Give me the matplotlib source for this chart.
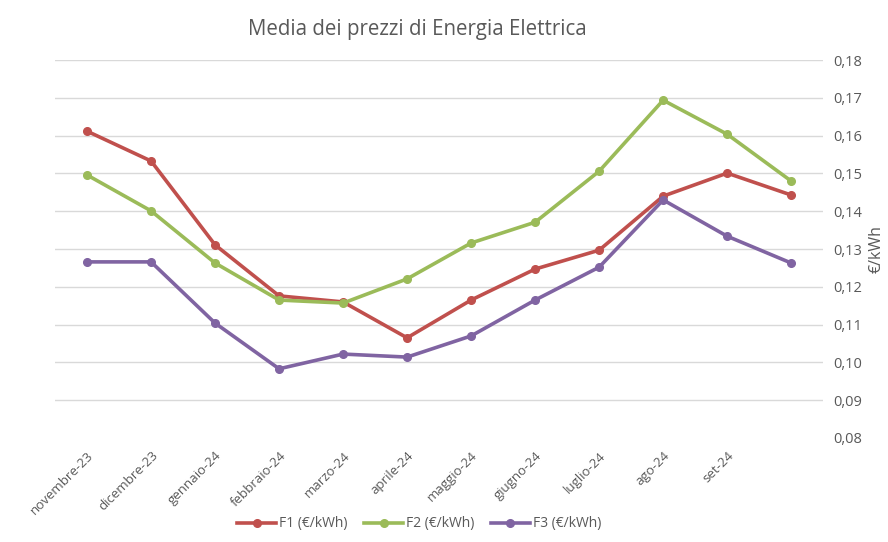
import matplotlib
matplotlib.use("Agg")
import matplotlib.pyplot as plt
import numpy as np

plt.rcParams['font.family'] = ['Open Sans', 'DejaVu Sans']

# Dati
mesi = ["novembre-23", "dicembre-23", "gennaio-24", "febbraio-24", "marzo-24",
        "aprile-24", "maggio-24", "giugno-24", "luglio-24", "ago-24", "set-24", ""]
f1 = [0.1612, 0.1533, 0.1311, 0.1176, 0.1160, 0.1065, 0.1165, 0.1247, 0.1297, 0.1440, 0.1501, 0.1443]
f2 = [0.1496, 0.1401, 0.1263, 0.1165, 0.1157, 0.1221, 0.1316, 0.1371, 0.1506, 0.1694, 0.1604, 0.1480]
f3 = [0.1266, 0.1266, 0.1104, 0.0983, 0.1022, 0.1014, 0.1070, 0.1165, 0.1252, 0.1430, 0.1334, 0.1263]
y_ticks = [0.08, 0.09, 0.10, 0.11, 0.12, 0.13, 0.14, 0.15, 0.16, 0.17, 0.18]

fig = plt.figure(figsize=(8.88, 5.42), dpi=100)
ax = fig.add_axes([0.062, 0.192, 0.865, 0.697])

x = np.arange(len(mesi))
serie = [("F1 (€/kWh)", f1, "#C0504D"),
         ("F2 (€/kWh)", f2, "#9BBB59"),
         ("F3 (€/kWh)", f3, "#8064A2")]
for nome, valori, colore in serie:
    ax.plot(x, valori, color=colore, linewidth=2.6, marker="o", markersize=5.5, label=nome)

ax.set_xlim(-0.5, len(mesi) - 0.5)
ax.set_ylim(0.08, 0.18)
ax.set_yticks(y_ticks)
ax.set_yticklabels([f"{v:.2f}".replace(".", ",") for v in y_ticks])
ax.yaxis.tick_right()
ax.yaxis.set_label_position("right")
ax.set_ylabel("€/kWh", color="#595959", fontsize=11.5, labelpad=5)

ax.set_xticks(x)
ax.set_xticklabels(mesi, rotation=45, ha="right", rotation_mode="anchor")
ax.tick_params(axis="both", length=0, colors="#595959")
ax.tick_params(axis="x", pad=8, labelsize=9.5)
ax.tick_params(axis="y", pad=7, labelsize=10.5)

ax.grid(axis="y", color="#D9D9D9", linewidth=1)
ax.yaxis.get_gridlines()[0].set_visible(False)
ax.set_axisbelow(True)
for s in ax.spines.values():
    s.set_visible(False)

fig.text(0.47, 1 - 30 / 542, "Media dei prezzi di Energia Elettrica", ha="center", va="center",
         fontsize=14.8, color="#595959")

fig.legend(loc="center", bbox_to_anchor=(0.472, 1 - 524 / 542), ncol=3, frameon=False,
           fontsize=10, labelcolor="#595959", handlelength=2.8, columnspacing=1.2, handletextpad=0.2)

fig.savefig("out.png", dpi=100)
